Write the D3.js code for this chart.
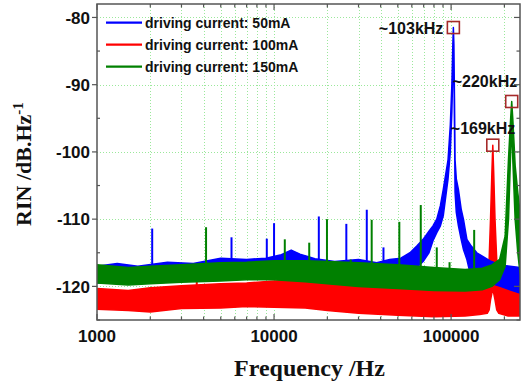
<!DOCTYPE html>
<html>
<head>
<meta charset="utf-8">
<script src="https://cdn.jsdelivr.net/npm/d3@7"></script>
<style>
  html, body { margin: 0; padding: 0; background: #fff; }
  svg { display: block; }
</style>
</head>
<body>
<div id="chart"></div>
<script>
// noise bands: [frequency Hz, upper dB, lower dB]
const blueBand = [
  [1000, -117.0, -119.5], [1300, -116.6, -119.2], [1700, -117.0, -119.0],
  [2500, -116.4, -118.8], [3500, -116.6, -118.7], [5000, -115.8, -118.5],
  [7000, -116.0, -118.4], [9000, -115.8, -118.3], [11000, -115.3, -118.0],
  [12500, -114.6, -117.8], [14000, -115.2, -118.0], [17000, -115.9, -118.2],
  [22000, -116.3, -118.4], [30000, -116.0, -118.5], [38000, -116.5, -118.6],
  [45000, -116.0, -118.4], [52000, -115.8, -118.2], [58600, -115.0, -117.8],
  [64000, -114.0, -117.2], [69500, -113.0, -116.3], [75000, -111.8, -115.0],
  [79000, -111.0, -113.2], [83000, -110.0, -112.0], [87000, -108.0, -111.0],
  [90300, -105.6, -109.5], [96100, -101.2, -104.0], [99000, -96.0, -100.0],
  [101000, -90.0, -94.0], [102300, -84.0, -88.0], [103000, -81.5, -84.0],
  [103700, -84.0, -88.0], [104500, -92.0, -96.0], [105300, -101.2, -106.0],
  [107000, -104.0, -109.0], [110000, -105.6, -111.0], [114000, -108.5, -113.0],
  [117400, -110.0, -114.5], [122800, -113.0, -116.0], [130000, -114.0, -118.8],
  [139700, -115.0, -119.3], [166000, -116.2, -119.5], [190000, -116.8, -120.0],
  [215000, -117.0, -120.5], [245000, -117.2, -121.0]
];
const redBand = [
  [1000, -120.3, -123.4], [1500, -120.6, -123.6], [2000, -120.2, -123.8],
  [3000, -119.9, -123.3], [5000, -119.6, -123.2], [7000, -119.5, -123.0],
  [10000, -119.2, -123.1], [15000, -119.0, -123.2], [20000, -119.3, -123.6],
  [30000, -119.4, -124.0], [50000, -119.7, -124.3], [80000, -120.0, -124.5],
  [120000, -120.2, -124.4], [145000, -119.8, -124.2], [160000, -119.0, -124.0],
  [164000, -116.0, -123.5], [167000, -110.0, -122.0], [170000, -103.0, -121.0],
  [172000, -99.0, -120.5], [174000, -103.0, -121.0], [177000, -110.0, -122.0],
  [181000, -116.0, -123.5], [186000, -119.0, -124.0], [210000, -119.3, -124.4],
  [245000, -119.0, -124.4]
];
const greenBand = [
  [1000, -116.8, -119.5], [1500, -117.2, -119.8], [2000, -117.0, -119.6],
  [3000, -116.8, -119.4], [5000, -116.5, -119.2], [7000, -116.4, -119.0],
  [10000, -116.2, -119.0], [15000, -116.2, -119.3], [20000, -116.3, -119.6],
  [30000, -116.5, -120.0], [50000, -116.8, -120.3], [80000, -117.2, -120.6],
  [120000, -117.5, -120.7], [150000, -117.3, -120.5], [170000, -116.8, -120.0],
  [188000, -116.0, -119.0], [202000, -112.5, -117.0], [211000, -101.0, -110.0],
  [217000, -95.0, -100.0], [220000, -92.5, -96.0], [223000, -95.0, -101.0],
  [230000, -102.0, -110.0], [238000, -106.0, -115.0], [245000, -109.0, -118.0]
];

// narrow spurs: [frequency Hz, top dB]
const blueSpikes = [
  [2050, -111.4], [5750, -112.7], [9100, -112.9], [10000, -110.6],
  [17900, -109.6], [25600, -110.7], [33400, -108.6], [41500, -114.2]
];
const redSpikes = [[3660, -119.0], [233000, -118.0]];
const greenSpikes = [
  [4130, -111.2], [11500, -113.0], [15800, -113.5], [19900, -110.0],
  [27100, -116.0], [35600, -110.1], [51000, -110.4], [67400, -107.9],
  [83000, -114.2], [98000, -116.4], [135000, -111.6]
];

const seriesNames = ['driving current: 50mA', 'driving current: 100mA', 'driving current: 150mA'];
const seriesColors = ['#0000ff', '#ff0000', '#008000'];

const peakFreqs = [103000, 172000, 220000];
const peakValues = [-81.5, -99.0, -92.5];
const peakLabels = ['~103kHz', '~169kHz', '~220kHz'];

const xTicks = [1000, 10000, 100000];
const yTicks = [-120, -110, -100, -90, -80];
const yMinor = [-125, -115, -105, -95, -85];

const width = 522, height = 383;
const plot = { left: 97, right: 520, top: 4, bottom: 320 };
const tickFont = 'bold 17px "Liberation Sans", Arial, sans-serif';
const labelFont = '"Liberation Serif", "Times New Roman", serif';

const svg = d3.select('#chart').append('svg')
  .attr('width', width).attr('height', height)
  .style('background', '#fff');

const x = d3.scaleLog().domain([1000, 245000]).range([plot.left, plot.right]);
const y = d3.scaleLinear().domain([-125, -78]).range([plot.bottom, plot.top]);

svg.append('clipPath').attr('id', 'clip')
  .append('rect')
  .attr('x', plot.left).attr('y', plot.top)
  .attr('width', plot.right - plot.left).attr('height', plot.bottom - plot.top);

// grid
const grid = svg.append('g')
  .attr('stroke', '#9be89b').attr('stroke-width', 1)
  .attr('stroke-dasharray', '1,2');
grid.selectAll('.vg').data(x.ticks().filter(t => t > 1000 && t < 245000))
  .join('line')
  .attr('x1', d => Math.round(x(d)) + 0.5).attr('x2', d => Math.round(x(d)) + 0.5)
  .attr('y1', plot.top).attr('y2', plot.bottom);
grid.selectAll('.hg').data(yTicks)
  .join('line')
  .attr('x1', plot.left).attr('x2', plot.right)
  .attr('y1', d => Math.round(y(d)) + 0.5).attr('y2', d => Math.round(y(d)) + 0.5);

// data
const data = svg.append('g').attr('clip-path', 'url(#clip)');
const area = d3.area()
  .x(d => x(d[0]))
  .y0(d => y(d[2]))
  .y1(d => y(d[1]));

function bandTop(band, f) {
  const i = d3.bisector(d => d[0]).left(band, f);
  const a = band[Math.max(0, i - 1)], b = band[Math.min(band.length - 1, i)];
  if (a === b) return a[1];
  const t = (Math.log(f) - Math.log(a[0])) / (Math.log(b[0]) - Math.log(a[0]));
  return a[1] + t * (b[1] - a[1]);
}

function drawSeries(band, spikes, color) {
  data.append('path')
    .datum(band)
    .attr('d', area)
    .attr('fill', color)
    .attr('stroke', color)
    .attr('stroke-width', 1.5)
    .attr('stroke-linejoin', 'round');
  data.selectAll(null)
    .data(spikes)
    .join('line')
    .attr('x1', d => x(d[0])).attr('x2', d => x(d[0]))
    .attr('y1', d => y(bandTop(band, d[0])) + 2)
    .attr('y2', d => y(d[1]))
    .attr('stroke', color)
    .attr('stroke-width', 2);
}

drawSeries(redBand, redSpikes, seriesColors[1]);
drawSeries(blueBand, blueSpikes, seriesColors[0]);
drawSeries(greenBand, greenSpikes, seriesColors[2]);

// frame and ticks
const frameColor = '#555';
svg.append('rect')
  .attr('x', plot.left).attr('y', plot.top)
  .attr('width', plot.right - plot.left).attr('height', plot.bottom - plot.top)
  .attr('fill', 'none').attr('stroke', frameColor).attr('stroke-width', 1.5);

const xMinor = x.ticks().filter(t => !xTicks.includes(t));
const ticks = svg.append('g').attr('stroke', frameColor).attr('stroke-width', 1.2);
// bottom & top, inward
[[plot.bottom, -1], [plot.top, 1]].forEach(([y0, dir]) => {
  ticks.selectAll(null).data(xTicks).join('line')
    .attr('x1', d => x(d)).attr('x2', d => x(d))
    .attr('y1', y0).attr('y2', d => y0 + dir * 6);
  ticks.selectAll(null).data(xMinor).join('line')
    .attr('x1', d => x(d)).attr('x2', d => x(d))
    .attr('y1', y0).attr('y2', d => y0 + dir * 3.5);
});
// left: major outward, minor inward
ticks.selectAll(null).data(yTicks).join('line')
  .attr('x1', plot.left - 5).attr('x2', plot.left)
  .attr('y1', d => y(d)).attr('y2', d => y(d));
ticks.selectAll(null).data(yMinor).join('line')
  .attr('x1', plot.left).attr('x2', plot.left + 3)
  .attr('y1', d => y(d)).attr('y2', d => y(d));
// right: inward
ticks.selectAll(null).data(yTicks).join('line')
  .attr('x1', plot.right - 6).attr('x2', plot.right)
  .attr('y1', d => y(d)).attr('y2', d => y(d));
ticks.selectAll(null).data(yMinor).join('line')
  .attr('x1', plot.right - 3.5).attr('x2', plot.right)
  .attr('y1', d => y(d)).attr('y2', d => y(d));

// tick labels
svg.append('g').selectAll('text').data(yTicks).join('text')
  .attr('x', plot.left - 7).attr('y', d => y(d))
  .attr('dy', '0.36em').attr('text-anchor', 'end')
  .style('font', tickFont).attr('fill', '#111')
  .text(d => d);
svg.append('g').selectAll('text').data(xTicks).join('text')
  .attr('x', d => x(d)).attr('y', plot.bottom + 22)
  .attr('text-anchor', 'middle')
  .style('font', tickFont).attr('fill', '#111')
  .text(d => d);

// axis titles
svg.append('text')
  .attr('x', (plot.left + plot.right) / 2 + 1).attr('y', 376)
  .attr('text-anchor', 'middle')
  .style('font-family', labelFont).style('font-weight', 'bold').style('font-size', '24px')
  .attr('fill', '#111')
  .text('Frequency /Hz');
const yTitle = svg.append('text')
  .attr('transform', `translate(31,${(plot.top + plot.bottom) / 2 + 2}) rotate(-90)`)
  .attr('text-anchor', 'middle')
  .style('font-family', labelFont).style('font-weight', 'bold').style('font-size', '22px')
  .attr('fill', '#111');
yTitle.append('tspan').text('RIN /dB.Hz');
yTitle.append('tspan').attr('dy', -8).style('font-size', '15px').text('-1');

// legend
const legend = svg.append('g');
seriesNames.forEach((name, i) => {
  const ly = 22.7 + i * 22;
  legend.append('line')
    .attr('x1', 106).attr('x2', 142).attr('y1', ly).attr('y2', ly)
    .attr('stroke', seriesColors[i]).attr('stroke-width', 2.2);
  legend.append('text')
    .attr('x', 145).attr('y', ly).attr('dy', '0.35em')
    .style('font', 'bold 14px "Liberation Sans", Arial, sans-serif')
    .attr('fill', '#111')
    .text(name);
});

// peak markers
const labelOffsets = [
  { dx: -10, dy: 6, anchor: 'end' },
  { dx: -42, dy: -11.5, anchor: 'start' },
  { dx: -59, dy: -14, anchor: 'start' }
];
const marks = svg.append('g');
peakFreqs.forEach((f, i) => {
  const cx = x(f), cy = y(peakValues[i]);
  marks.append('rect')
    .attr('x', cx - 6).attr('y', cy - 6)
    .attr('width', 12).attr('height', 12)
    .attr('fill', 'none').attr('stroke', '#a52a2a').attr('stroke-width', 1.6);
  marks.append('text')
    .attr('x', cx + labelOffsets[i].dx).attr('y', cy + labelOffsets[i].dy)
    .attr('text-anchor', labelOffsets[i].anchor)
    .style('font', 'bold 16px "Liberation Sans", Arial, sans-serif')
    .attr('fill', '#111')
    .text(peakLabels[i]);
});
</script>
</body>
</html>
